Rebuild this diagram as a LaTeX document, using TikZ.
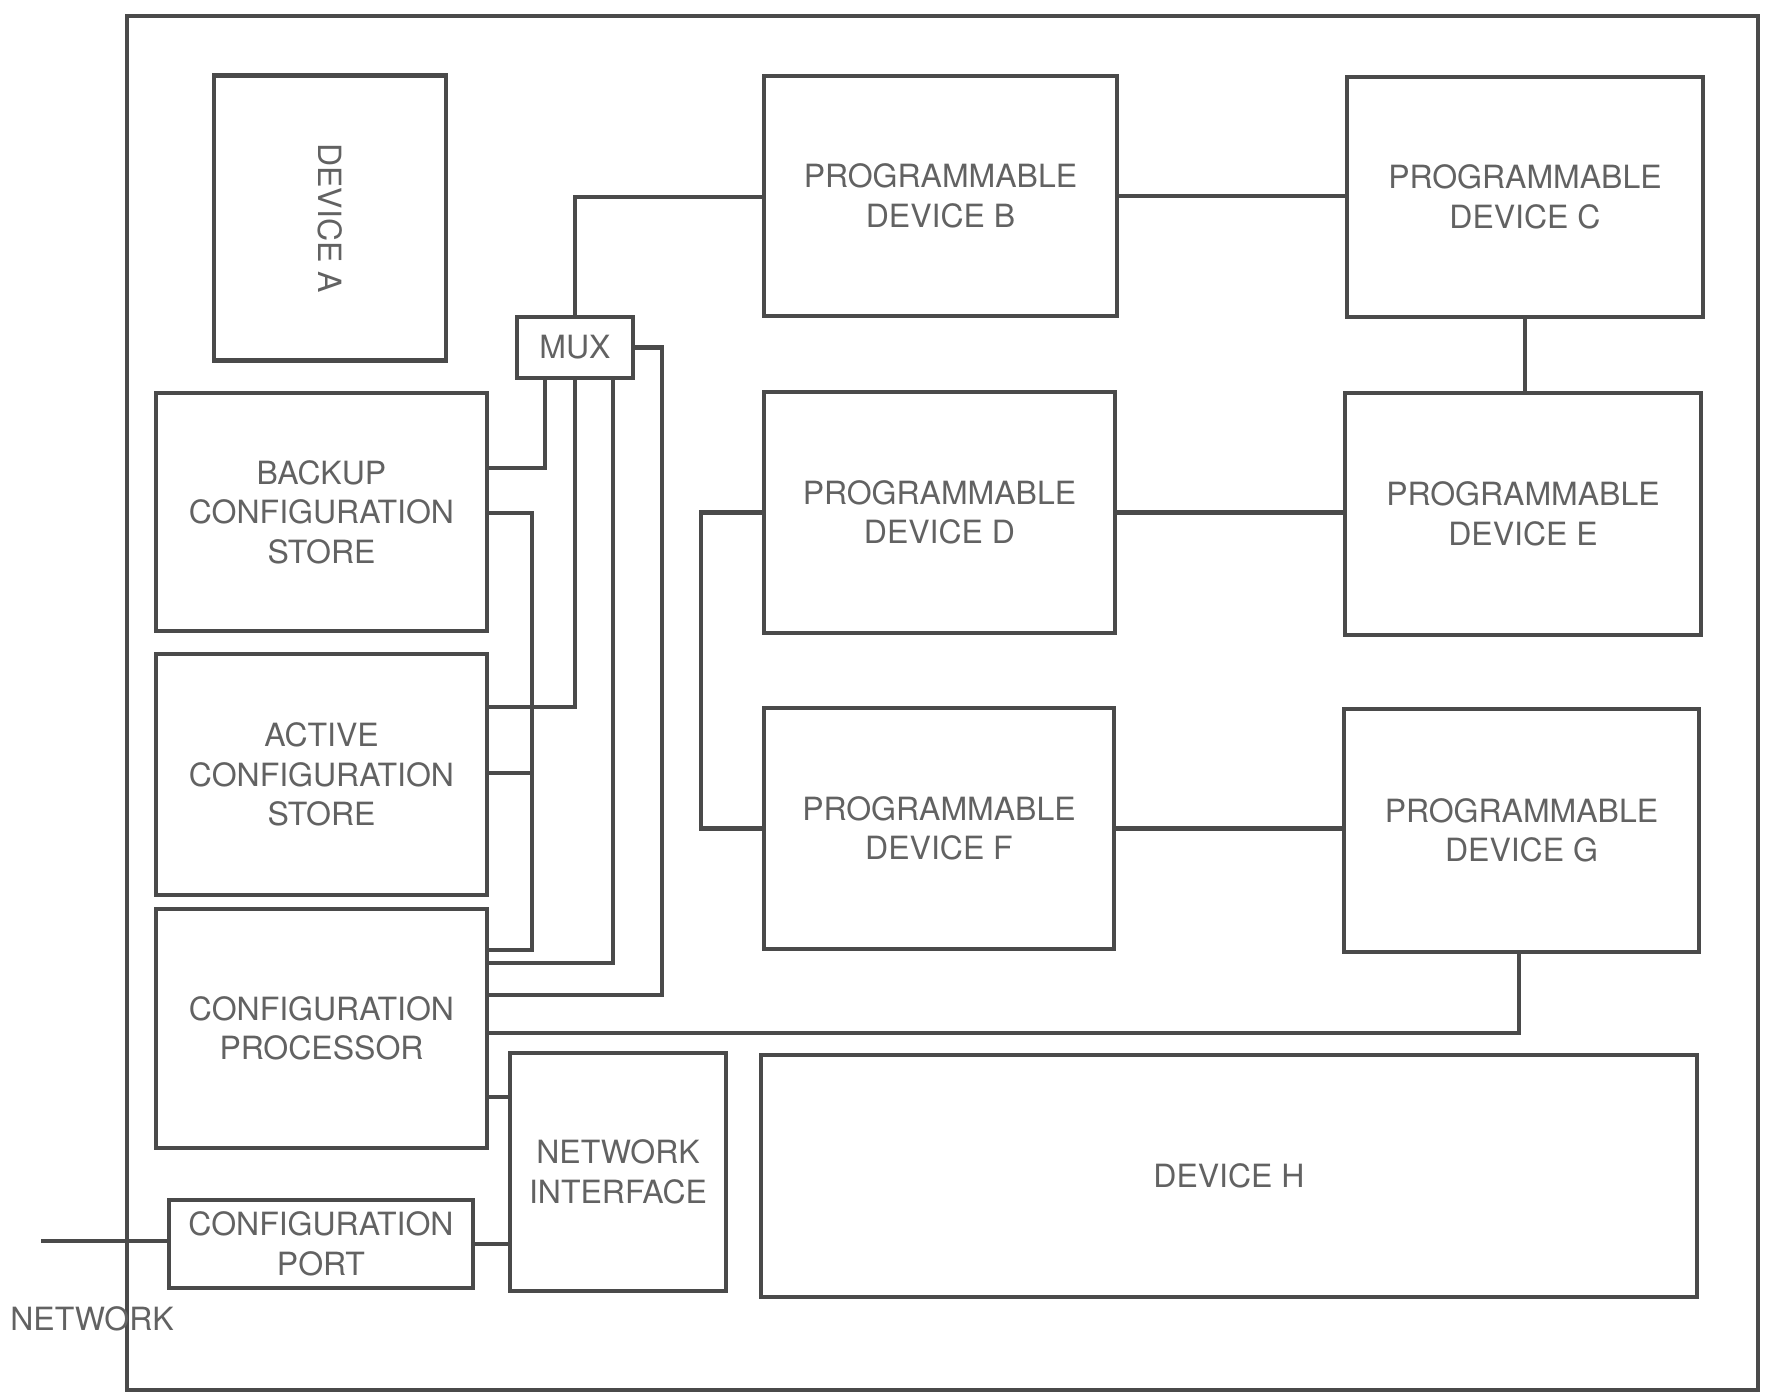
\documentclass[tikz,border=0pt]{standalone}
\usepackage{fontspec}
\setmainfont{TeX Gyre Heros}
\begin{document}
\begin{tikzpicture}[x=0.5pt,y=-0.5pt,
  wire/.style={draw=linegray,line width=2.2pt,line join=miter},
  blk/.style={draw=linegray,line width=2.2pt,inner sep=0pt,align=center,
    text=textgray,font=\fontsize{16}{19.8}\selectfont},
  lbl/.style={text=textgray,font=\fontsize{16}{19.8}\selectfont,inner sep=0pt}]
\definecolor{linegray}{HTML}{4A4A4A}
\definecolor{textgray}{HTML}{626262}
\useasboundingbox[fill=white] (0,0) rectangle (1771,1398);
\newcommand{\mybox}[6]{%
  \node[blk,minimum width={(#4-#2)*0.5pt},minimum height={(#5-#3)*0.5pt}]
    (#1) at ({(#2+#4)/2},{(#3+#5)/2}) {#6};}
% frame
\mybox{frame}{127}{16}{1758}{1390}{}
% blocks
\node[blk,minimum width={(360-75)*0.5pt},minimum height={(446-214)*0.5pt},rotate=-90]
  (a) at (330,218) {DEVICE A};
\mybox{mux}{517}{317}{633}{378}{MUX}
\mybox{b}{764}{76}{1117}{316}{PROGRAMMABLE\\DEVICE B}
\mybox{c}{1347}{77}{1703}{317}{PROGRAMMABLE\\DEVICE C}
\mybox{d}{764}{392}{1115}{633}{PROGRAMMABLE\\DEVICE D}
\mybox{e}{1345}{393}{1701}{635}{PROGRAMMABLE\\DEVICE E}
\mybox{f}{764}{708}{1114}{949}{PROGRAMMABLE\\DEVICE F}
\mybox{g}{1344}{709}{1699}{952}{PROGRAMMABLE\\DEVICE G}
\mybox{h}{761}{1055}{1697}{1297}{DEVICE H}
\mybox{ni}{510}{1053}{726}{1291}{NETWORK\\INTERFACE}
\mybox{port}{169}{1200}{473}{1288}{CONFIGURATION\\PORT}
\mybox{proc}{156}{909}{487}{1148}{CONFIGURATION\\PROCESSOR}
\mybox{active}{156}{654}{487}{895}{ACTIVE\\CONFIGURATION\\STORE}
\mybox{backup}{156}{393}{487}{631}{BACKUP\\CONFIGURATION\\STORE}
% wire coordinates
\coordinate (w1) at (545,468);
\coordinate (w2a) at (532,513);
\coordinate (w2b) at (532,950);
\coordinate (w2c) at (532,773);
\coordinate (w3) at (575,707);
\coordinate (w4) at (613,963);
\coordinate (w5) at (662,995);
\coordinate (w6) at (1519,1033);
\coordinate (w7) at (575,197);
\coordinate (w9) at (1525,0);
\coordinate (w12) at (701,0);
\coordinate (w13) at (0,1097);
\coordinate (netend) at (41,1241);
% wires
\draw[wire] (mux.south -| w1) |- (backup.east |- w1);
\draw[wire] (backup.east |- w2a) -| (w2b) -- (proc.east |- w2b);
\draw[wire] (active.east |- w2c) -- (w2c);
\draw[wire] (mux.south) |- (active.east |- w3);
\draw[wire] (mux.south -| w4) |- (proc.east |- w4);
\draw[wire] (mux.east) -| (w5) -- (proc.east |- w5);
\draw[wire] (g.south -| w6) |- (proc.east |- w6);
\draw[wire] (mux.north) |- (b.west |- w7);
\draw[wire] (b.east) -- (c.west |- b.east);
\draw[wire] (c.south -| w9) -- (e.north -| w9);
\draw[wire] (d.east) -- (e.west |- d.east);
\draw[wire] (f.east) -- (g.west |- f.east);
\draw[wire] (d.west) -| (w12 |- f.west) -- (f.west);
\draw[wire] (proc.east |- w13) -- (ni.west |- w13);
\draw[wire] (port.east) -- (ni.west |- port.east);
\draw[wire] (netend) -- (port.west |- netend);
\node[lbl] (net) at (92,1319) {NETWORK};
\end{tikzpicture}
\end{document}
